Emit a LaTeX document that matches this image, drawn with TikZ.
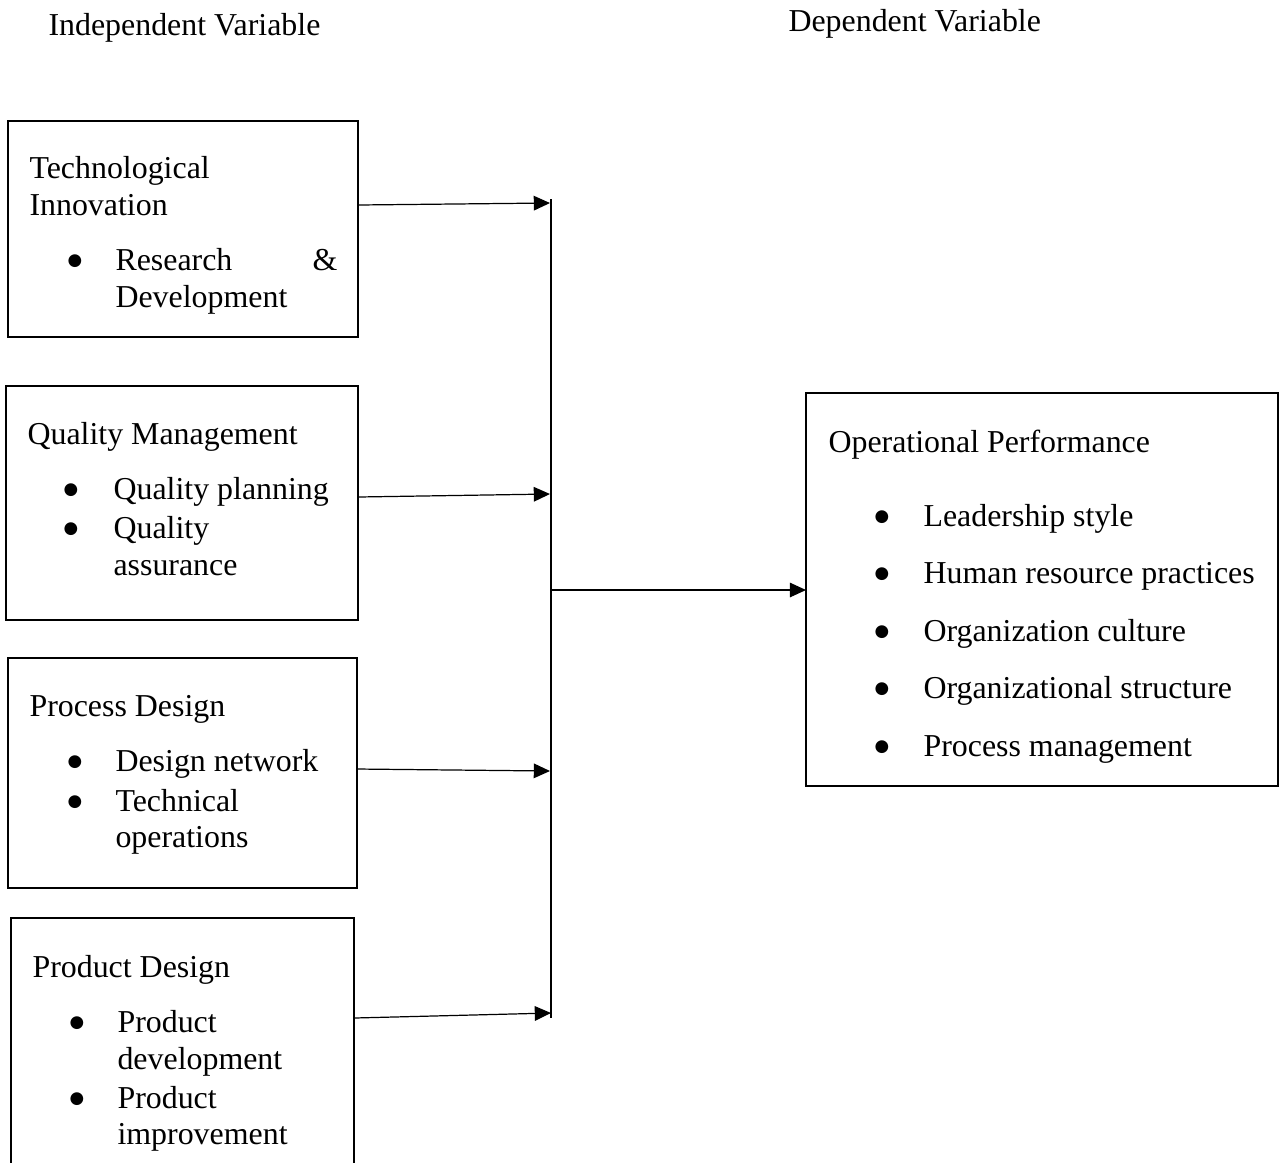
\documentclass[tikz,border=0pt]{standalone}
\usepackage{fontspec}
\setmainfont{Liberation Serif}
\newfontfamily\bulfont{DejaVu Sans}
\usetikzlibrary{arrows.meta}
\def\pu{0.37pt}
\newcommand\mybul{{\bulfont\fontsize{6.2}{7}\selectfont ●}}
\begin{document}
\begin{tikzpicture}[x=0.37pt,y=-0.37pt,
  box/.style={draw=black, line width=1pt, anchor=north west, inner sep=0pt, outer sep=0pt},
  txt/.style={anchor=base west, inner sep=0pt, font=\fontsize{11.8}{13.5}\selectfont},
  bul/.style={anchor=base, inner sep=0pt},
  conn/.style={line width=0.45pt, -{Triangle[length=6pt,width=5.4pt]}},
  barline/.style={line width=0.45pt}]
\useasboundingbox (0,0) rectangle (1280,1162);
\clip (0,0) rectangle (1280,1162);

% headers
\node[txt] (h1) at (48,35) {Independent Variable};
\node[txt] (h2) at (788,31) {Dependent Variable};

% boxes
\node[box, minimum width=350*\pu, minimum height=216*\pu] (b1) at (8,121) {};
\node[box, minimum width=352*\pu, minimum height=234*\pu] (b2) at (6,386) {};
\node[box, minimum width=349*\pu, minimum height=230*\pu] (b3) at (8,658) {};
\node[box, minimum width=343*\pu, minimum height=300*\pu] (b4) at (11,918) {};
\node[box, minimum width=472*\pu, minimum height=393*\pu] (b5) at (806,393) {};

% box 1
\node[txt] (t1a) at (29,178) {Technological};
\node[txt] (t1b) at (29,215) {Innovation};
\node[bul] (u1a) at (75,265) {\mybul};
\node[txt] (t1c) at (115,270) {\makebox[82.14pt][s]{Research\hfill\&}};
\node[txt] (t1d) at (115,307) {Development};

% box 2
\node[txt] (t2a) at (27,444) {Quality Management};
\node[bul] (u2a) at (71,494) {\mybul};
\node[txt] (t2b) at (113,499) {Quality planning};
\node[bul] (u2b) at (71,533) {\mybul};
\node[txt] (t2c) at (113,538) {Quality};
\node[txt] (t2d) at (113,575) {assurance};

% box 3
\node[txt] (t3a) at (29,716) {Process Design};
\node[bul] (u3a) at (75,766) {\mybul};
\node[txt] (t3b) at (115,771) {Design network};
\node[bul] (u3b) at (75,806) {\mybul};
\node[txt] (t3c) at (115,811) {Technical};
\node[txt] (t3d) at (115,847) {operations};

% box 4
\node[txt] (t4a) at (32,977) {Product Design};
\node[bul] (u4a) at (77,1027) {\mybul};
\node[txt] (t4b) at (117,1032) {Product};
\node[txt] (t4c) at (117,1069) {development};
\node[bul] (u4b) at (77,1103) {\mybul};
\node[txt] (t4d) at (117,1108) {Product};
\node[txt] (t4e) at (117,1144) {improvement};

% box 5
\node[txt] (t5a) at (828,452) {Operational Performance};
\node[bul] (u5a) at (882,521) {\mybul};
\node[txt] (t5b) at (923,526) {Leadership style};
\node[bul] (u5b) at (882,578) {\mybul};
\node[txt] (t5c) at (923,583) {Human resource practices};
\node[bul] (u5c) at (882,636) {\mybul};
\node[txt] (t5d) at (923,641) {Organization culture};
\node[bul] (u5d) at (882,693) {\mybul};
\node[txt] (t5e) at (923,698) {Organizational structure};
\node[bul] (u5e) at (882,751) {\mybul};
\node[txt] (t5f) at (923,756) {Process management};

% connector bar
\coordinate (bartop) at (551,199);
\coordinate (barbot) at (551,1018);
\coordinate (barmid) at (551,590);
\draw[barline] (bartop) -- (barbot);

% arrows into the bar
\coordinate (s1) at (b1.east |- 0,205);
\coordinate (e1) at (550,203);
\coordinate (s2) at (b2.east |- 0,497);
\coordinate (e2) at (550,494);
\coordinate (s3) at (b3.east |- 0,769);
\coordinate (e3) at (550,771);
\coordinate (s4) at (b4.east |- 0,1018);
\coordinate (e4) at (551,1013);
\draw[conn] (s1) -- (e1);
\draw[conn] (s2) -- (e2);
\draw[conn] (s3) -- (e3);
\draw[conn] (s4) -- (e4);

% arrow to dependent variable
\draw[conn] (barmid) -- (b5.west |- barmid);
\end{tikzpicture}
\end{document}
